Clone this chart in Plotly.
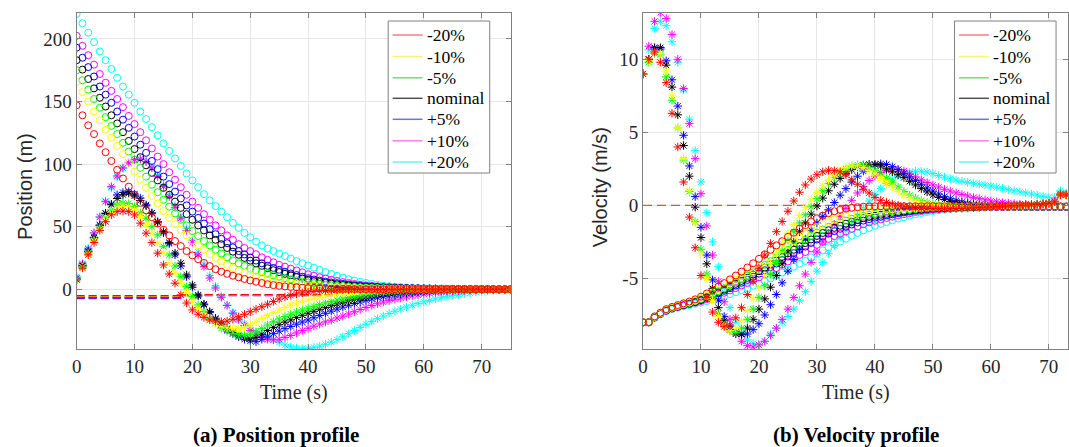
import plotly.graph_objects as go

W, H = 1069, 447

labels = ["-20%", "-10%", "-5%", "nominal", "+5%", "+10%", "+20%"]
colors = ["#ff0000", "#ffff00", "#00ff00", "#000000", "#0000ff", "#ff00ff", "#00ffff"]
legend_colors = ["#f08080", "#f5f570", "#70e070", "#505050", "#7070e8", "#f080f0", "#70f0f0"]

# ---------------- position profile (t = 0 .. 75 s) ----------------
t_pos = list(range(76))

pos_circ_m20 = [
    147, 139, 131, 124, 116.5, 109.5, 102.5, 95.5, 88.5, 82,
    75.5, 69, 63, 57.5, 52.5, 47.5, 43, 38.5, 34.5, 30.5,
    27, 24, 21, 18.5, 16, 14, 12.3, 10.8, 9.5, 8.2,
    7, 6, 5, 4, 3.3, 2.7, 2.2, 1.8, 1.5, 1.2,
    1, 0.8, 0.65, 0.5, 0.4, 0.3, 0.25, 0.2, 0.15, 0.1,
    0.08, 0.06, 0.05, 0.04, 0.03, 0.02, 0.02, 0.01, 0.01, 0.01,
    0, 0, 0, 0, 0, 0, 0, 0, 0, 0,
    0, 0, 0, 0, 0, 0]
pos_circ_m10 = [
    165.5, 157.5, 150, 142, 135, 127.5, 121, 114.5, 108, 101,
    94, 87.5, 81, 74.5, 68.5, 62.5, 57, 52, 47.5, 43,
    39, 35, 31.5, 28, 25, 22, 19.5, 17, 15, 13.2,
    11.6, 10.3, 9.2, 8.2, 7.3, 6.5, 5.7, 5, 4.4, 3.8,
    3.3, 2.9, 2.5, 2.1, 1.8, 1.5, 1.3, 1.1, 0.9, 0.8,
    0.65, 0.55, 0.45, 0.4, 0.33, 0.28, 0.24, 0.2, 0.17, 0.14,
    0.12, 0.1, 0.08, 0.07, 0.06, 0.05, 0.04, 0.03, 0.03, 0.02,
    0.02, 0.01, 0.01, 0.01, 0, 0]
pos_circ_m5 = [
    175, 167, 159.5, 152, 145, 137.5, 130.5, 124, 117, 110,
    103.5, 97, 90, 83.5, 77.5, 71.5, 66, 60.5, 55.5, 51,
    46.5, 42.5, 38.5, 35, 31.5, 28.5, 25.5, 23, 20.7, 18.6,
    16.7, 15, 13.5, 12.5, 11.2, 10, 8.9, 7.9, 7, 6.2,
    5.4, 4.8, 4.2, 3.7, 3.2, 2.8, 2.4, 2.1, 1.8, 1.55,
    1.35, 1.15, 1, 0.85, 0.72, 0.62, 0.53, 0.45, 0.38, 0.32,
    0.27, 0.23, 0.19, 0.16, 0.13, 0.11, 0.09, 0.07, 0.06, 0.05,
    0.04, 0.03, 0.02, 0.02, 0.01, 0]
pos_circ_nom = [
    183, 175.5, 168, 160.5, 153, 146, 139, 132.5, 125.5, 118.5,
    112, 105.5, 99, 93, 87, 81, 75.5, 70, 65, 60,
    55.5, 51, 47, 43, 39.5, 36, 33, 30, 27.5, 25,
    22.8, 20.7, 18.7, 16.8, 15.2, 13.7, 12.3, 11, 9.8, 8.6,
    7.5, 6.6, 5.8, 5.1, 4.5, 3.9, 3.4, 3, 2.6, 2.2,
    1.9, 1.65, 1.42, 1.22, 1.05, 0.9, 0.77, 0.66, 0.56, 0.48,
    0.41, 0.35, 0.3, 0.25, 0.21, 0.18, 0.15, 0.12, 0.1, 0.08,
    0.06, 0.05, 0.04, 0.03, 0.02, 0.01]
pos_circ_p5 = [
    193, 185, 177.5, 170, 162, 155.5, 149, 142, 135.5, 129,
    122, 115.5, 109, 102.5, 96, 90, 84, 78, 72.5, 67,
    62, 57, 52.5, 48, 44, 40.3, 36.8, 33.5, 30.5, 27.8,
    25.3, 22.9, 20.7, 18.7, 17, 15.5, 14, 12.6, 11.3, 10,
    8.8, 7.8, 6.9, 6.1, 5.4, 4.8, 4.2, 3.7, 3.2, 2.8,
    2.4, 2.1, 1.8, 1.55, 1.33, 1.14, 0.98, 0.84, 0.72, 0.62,
    0.53, 0.45, 0.38, 0.32, 0.27, 0.23, 0.19, 0.16, 0.13, 0.11,
    0.09, 0.07, 0.05, 0.04, 0.02, 0.01]
pos_circ_p10 = [
    202.5, 194.5, 187, 179.5, 172, 165, 158.5, 152, 145.5, 138.5,
    132, 125.5, 119, 112.5, 106, 100, 93.5, 87.5, 81.5, 75.5,
    70, 65, 60, 55.5, 51, 47, 43, 39.5, 36, 33,
    30.5, 28, 25.5, 23.5, 21.5, 19.5, 18, 16.5, 15, 13.5,
    12, 10.8, 9.6, 8.5, 7.5, 6.6, 5.7, 4.9, 4.2, 3.6,
    3.1, 2.7, 2.3, 2, 1.7, 1.45, 1.23, 1.05, 0.9, 0.77,
    0.66, 0.56, 0.47, 0.4, 0.34, 0.28, 0.23, 0.19, 0.15, 0.12,
    0.09, 0.07, 0.05, 0.03, 0.02, 0.01]
pos_circ_p20 = [
    220, 212.5, 205, 197.5, 190, 183, 176, 169, 162, 155.5,
    149, 142, 136, 129.5, 123, 116.5, 110.5, 104.5, 98.5, 92.5,
    87, 81.5, 76, 71, 66.5, 62, 57.5, 53, 49, 45,
    41.5, 38, 35, 32.5, 30.5, 28.5, 26.5, 24.5, 22.5, 20.8,
    19, 17.2, 15.5, 13.8, 12.2, 10.7, 9.3, 8, 6.9, 5.9,
    5, 4.2, 3.5, 2.9, 2.4, 2, 1.65, 1.35, 1.1, 0.9,
    0.75, 0.62, 0.51, 0.42, 0.34, 0.28, 0.22, 0.18, 0.14, 0.11,
    0.08, 0.06, 0.04, 0.03, 0.02, 0]

pos_star_m20 = [
    7.5, 17, 27.5, 37.3, 47, 54, 59.5, 62, 62.5, 62,
    59.4, 52.8, 44.8, 37.3, 28.8, 19.4, 12.2, 4.8, -4.5, -11,
    -16.5, -20, -22.5, -24.5, -25.5, -26, -25.5, -24, -22, -20,
    -18, -16, -14, -12, -9.8, -7.8, -6.2, -4.9, -3.8, -2.9,
    -2.2, -1.7, -1.3, -1, -0.8, -0.6, -0.5, -0.4, -0.3, -0.25,
    -0.2, -0.15, -0.12, -0.1, -0.08, -0.06, -0.05, -0.04, -0.03, -0.02,
    -0.02, -0.01, -0.01, 0, 0, 0, 0, 0, 0, 0,
    0, 0, 0, 0, 0, 0]
pos_star_m10 = [
    8, 17.5, 28, 38.5, 48, 56, 61.5, 65, 66, 65.5,
    63, 58, 51.5, 44.5, 37, 29, 21, 13, 5, -2.5,
    -9.5, -15.5, -20.5, -24.5, -27.5, -29.5, -30.8, -31.5, -31.5, -30.5,
    -28.5, -26, -23.5, -21, -18.7, -16.5, -14.5, -12.7, -11.1, -9.7,
    -8.4, -7.2, -6.2, -5.3, -4.5, -3.8, -3.2, -2.7, -2.2, -1.8,
    -1.5, -1.2, -1, -0.8, -0.6, -0.5, -0.4, -0.3, -0.25, -0.2,
    -0.15, -0.1, -0.08, -0.06, -0.05, -0.04, -0.03, -0.02, -0.01, 0,
    0, 0, 0, 0, 0, 0]
pos_star_m5 = [
    8, 18, 29, 39.5, 49.5, 57.5, 63.5, 67.5, 69, 68.5,
    66, 61, 56.8, 50, 43.4, 34, 27.4, 18.6, 10, 2,
    -5.9, -12.6, -17.9, -23.2, -27.2, -31.2, -33.5, -35.3, -36.3, -36.8,
    -36.2, -34.3, -31.5, -28.6, -26, -23.8, -21.8, -20, -18.3, -16.7,
    -15.2, -13.7, -12.3, -11, -9.8, -8.7, -7.7, -6.7, -5.8, -5,
    -4.3, -3.6, -3, -2.5, -2.1, -1.7, -1.4, -1.1, -0.9, -0.7,
    -0.55, -0.45, -0.35, -0.28, -0.22, -0.17, -0.13, -0.1, -0.07, -0.05,
    -0.03, -0.02, -0.01, 0, 0, 0]
pos_star_nom = [
    8, 18.5, 30, 41, 51, 60.5, 67.5, 72.5, 75.5, 76.8,
    74.6, 70.9, 66.6, 60.8, 54, 46, 37.3, 28.8, 20.8, 11.4,
    3.4, -4.6, -11.8, -17.9, -23.2, -27.8, -31.5, -34.5, -37, -38.7,
    -39.5, -38.5, -36, -33, -30.5, -28.3, -26.3, -24.5, -22.5, -20.8,
    -19.2, -17.6, -16, -14.5, -13.1, -11.7, -10.4, -9.2, -8.1, -7.1,
    -6.2, -5.3, -4.5, -3.8, -3.2, -2.7, -2.2, -1.8, -1.5, -1.2,
    -1, -0.8, -0.6, -0.5, -0.4, -0.3, -0.22, -0.16, -0.11, -0.07,
    -0.04, -0.02, -0.01, 0, 0, 0]
pos_star_p5 = [
    8.5, 19, 30.5, 41.5, 51.4, 60.8, 68, 75.4, 77.3, 78,
    76, 72.8, 67.4, 61, 53.5, 45, 36.5, 27.5, 18.6, 10,
    1.6, -5.5, -12.5, -18.5, -24, -28.5, -32.5, -35.5, -38, -40,
    -41.3, -41.9, -40, -37.5, -35.5, -33.5, -31.5, -29.7, -27.9, -26.2,
    -24.6, -22.8, -21, -19.2, -17.5, -15.9, -14.3, -12.8, -11.4, -10.1,
    -8.9, -7.8, -6.8, -5.9, -5.1, -4.4, -3.8, -3.2, -2.7, -2.3,
    -1.9, -1.6, -1.3, -1.1, -0.9, -0.7, -0.55, -0.42, -0.32, -0.24,
    -0.17, -0.11, -0.07, -0.04, -0.02, 0]
pos_star_p10 = [
    9, 20, 32, 45, 57.6, 70, 82, 90.5, 97, 101,
    103.5, 104, 102, 97, 90, 82, 74, 65.5, 56.8, 47,
    37.5, 27.5, 18, 9, 1, -6.5, -13, -19.2, -24.5, -29,
    -33, -36, -38.5, -40, -40.5, -40, -38.5, -37, -35, -33,
    -31.2, -29.5, -27.8, -26.2, -24.8, -23, -21.5, -19.8, -18, -16.2,
    -14.6, -13, -11.6, -10.3, -9.1, -8, -7, -6.1, -5.3, -4.5,
    -3.8, -3.2, -2.7, -2.2, -1.8, -1.5, -1.2, -1, -0.8, -0.6,
    -0.5, -0.4, -0.3, -0.2, -0.1, 0]
pos_star_p20 = [
    10, 20.8, 33, 45, 58, 70.5, 81, 89.5, 96.5, 100.8,
    103.5, 104, 102, 97.5, 91, 83.5, 75.5, 67, 58, 48.5,
    39, 29.5, 20, 11, 2.5, -5.5, -12.6, -18.5, -23.5, -27.5,
    -31, -34, -36.5, -38.5, -40.5, -42.5, -44.5, -46, -47, -47.5,
    -47.3, -46.5, -45.5, -44, -42.3, -40.3, -38, -35.5, -33, -30.5,
    -28, -25.7, -23.5, -21.4, -19.4, -17.6, -15.9, -14.3, -12.8, -11.4,
    -10.1, -8.9, -7.8, -6.8, -5.9, -5.1, -4.3, -3.6, -3, -2.4,
    -1.9, -1.4, -1, -0.6, -0.3, 0]

# dashed reference levels in the position panel
ref_pos_switch = 18
ref_pos_stop = 45
ref_pos_early = [-5.2, -5.6, -6.0, -6.4, -6.8, -7.2, -7.6]
ref_pos_late = [-4.4, -4.5, -4.6, -4.7, -4.8, -4.9, -5.0]

# ---------------- velocity profile (t = 0 .. 73 s) ----------------
t_vel = list(range(74))

vel_circ_m20 = [
    -8.0, -8.0, -7.6, -7.35, -7.1, -6.95, -6.82, -6.7, -6.58, -6.43,
    -6.25, -6.03, -5.8, -5.56, -5.32, -5.06, -4.8, -4.53, -4.25, -3.96,
    -3.66, -3.35, -3.04, -2.74, -2.45, -2.15, -1.87, -1.6, -1.35, -1.1,
    -0.88, -0.7, -0.53, -0.4, -0.3, -0.22, -0.16, -0.12, -0.09, -0.07,
] + [-0.06] * 34
vel_circ_m10 = [
    -8.0, -8.0, -7.63, -7.38, -7.14, -6.99, -6.87, -6.75, -6.64, -6.51,
    -6.35, -6.16, -5.96, -5.75, -5.54, -5.31, -5.09, -4.85, -4.6, -4.35,
    -4.08, -3.81, -3.53, -3.26, -2.99, -2.71, -2.45, -2.2, -1.96, -1.71,
    -1.49, -1.3, -1.12, -0.97, -0.84, -0.74, -0.63, -0.55, -0.47, -0.41,
    -0.36, -0.33, -0.29, -0.26, -0.23, -0.21, -0.18, -0.16, -0.14, -0.12,
    -0.11, -0.1, -0.09, -0.08, -0.08,
] + [-0.07] * 19
vel_circ_m5 = [
    -8.0, -8.0, -7.64, -7.39, -7.16, -7.01, -6.89, -6.78, -6.68, -6.55,
    -6.41, -6.24, -6.06, -5.87, -5.67, -5.46, -5.26, -5.04, -4.81, -4.58,
    -4.33, -4.08, -3.82, -3.56, -3.31, -3.05, -2.8, -2.56, -2.33, -2.08,
    -1.85, -1.65, -1.47, -1.31, -1.17, -1.04, -0.92, -0.82, -0.72, -0.63,
    -0.57, -0.51, -0.46, -0.41, -0.37, -0.33, -0.29, -0.25, -0.22, -0.19,
    -0.17, -0.15, -0.13, -0.12, -0.1, -0.1, -0.09, -0.09,
] + [-0.08] * 16
vel_circ_nom = [
    -8.0, -8.0, -7.65, -7.4, -7.18, -7.03, -6.91, -6.8, -6.7, -6.59,
    -6.45, -6.29, -6.13, -5.95, -5.76, -5.57, -5.37, -5.17, -4.96, -4.73,
    -4.5, -4.26, -4.02, -3.77, -3.53, -3.28, -3.04, -2.8, -2.58, -2.33,
    -2.09, -1.89, -1.7, -1.54, -1.39, -1.25, -1.12, -1.0, -0.88, -0.79,
    -0.71, -0.64, -0.58, -0.51, -0.46, -0.41, -0.36, -0.31, -0.27, -0.23,
    -0.2, -0.18, -0.16, -0.14, -0.12, -0.11, -0.1, -0.1,
] + [-0.09] * 16
vel_circ_p5 = [
    -8.0, -8.0, -7.66, -7.41, -7.19, -7.04, -6.93, -6.82, -6.72, -6.62,
    -6.49, -6.34, -6.19, -6.02, -5.85, -5.67, -5.48, -5.29, -5.1, -4.88,
    -4.67, -4.44, -4.22, -3.98, -3.74, -3.5, -3.27, -3.04, -2.82, -2.57,
    -2.33, -2.13, -1.93, -1.76, -1.6, -1.46, -1.31, -1.17, -1.04, -0.94,
    -0.84, -0.77, -0.69, -0.61, -0.54, -0.48, -0.42, -0.36, -0.32, -0.27,
    -0.24, -0.21, -0.18, -0.16, -0.14, -0.13, -0.12, -0.11,
] + [-0.1] * 16
vel_circ_p10 = [
    -8.0, -8.0, -7.68, -7.43, -7.21, -7.06, -6.96, -6.85, -6.76, -6.66,
    -6.55, -6.42, -6.29, -6.14, -5.98, -5.82, -5.66, -5.48, -5.31, -5.12,
    -4.92, -4.72, -4.51, -4.29, -4.06, -3.84, -3.62, -3.4, -3.19, -2.94,
    -2.7, -2.49, -2.29, -2.1, -1.93, -1.77, -1.6, -1.44, -1.29, -1.16,
    -1.05, -0.96, -0.86, -0.77, -0.68, -0.6, -0.53, -0.45, -0.39, -0.34,
    -0.3, -0.26, -0.22, -0.19, -0.17, -0.16, -0.14, -0.13, -0.12, -0.12,
] + [-0.11] * 14
vel_circ_p20 = [
    -8.0, -7.98, -7.7, -7.45, -7.25, -7.1, -7.0, -6.9, -6.82, -6.74,
    -6.65, -6.55, -6.45, -6.33, -6.2, -6.07, -5.94, -5.8, -5.66, -5.5,
    -5.34, -5.17, -5.0, -4.8, -4.6, -4.4, -4.2, -4.0, -3.8, -3.55,
    -3.3, -3.08, -2.87, -2.67, -2.47, -2.28, -2.08, -1.89, -1.7, -1.54,
    -1.4, -1.27, -1.14, -1.02, -0.9, -0.8, -0.7, -0.6, -0.52, -0.45,
    -0.39, -0.33, -0.28, -0.24, -0.21, -0.19, -0.17, -0.15, -0.13, -0.12,
] + [-0.11] * 14

vel_star_m20 = [
    9.0, 10.0, 10.5, 9.8, 8.4, 6.3, 4.0, 1.6, -0.8, -2.9,
    -4.8, -6.3, -7.3, -8.0, -8.3, -8.2, -7.7, -7.0, -6.1, -5.2,
    -4.3, -3.4, -2.6, -1.8, -1.1, -0.4, 0.3, 0.9, 1.4, 1.8,
    2.1, 2.3, 2.4, 2.38, 2.3, 2.1, 1.75, 1.45, 1.1, 0.85,
    0.55, 0.35, 0.2, 0.1, 0.02, -0.05, -0.1, -0.15, -0.18, -0.2,
    -0.22, -0.23, -0.23, -0.22, -0.21, -0.2, -0.18, -0.16, -0.14, -0.12,
    -0.1, -0.08, -0.06, -0.04, -0.02, 0, 0.02, 0.04, 0.07, 0.1,
    0.15, 0.25, 0.72, 0.72]
vel_star_m10 = [
    9.0, 9.9, 10.5, 10.4, 9.2, 7.5, 5.3, 3.2, 1.0, -1.2,
    -3.3, -5.0, -6.5, -7.6, -8.3, -8.6, -8.4, -7.9, -7.2, -6.4,
    -5.6, -4.8, -4.0, -3.3, -2.6, -1.9, -1.3, -0.7, -0.15, 0.4,
    0.9, 1.35, 1.75, 2.1, 2.4, 2.6, 2.7, 2.7, 2.6, 2.4,
    2.15, 1.85, 1.55, 1.25, 0.95, 0.7, 0.5, 0.32, 0.2, 0.1,
    0.03, -0.02, -0.06, -0.09, -0.11, -0.12, -0.12, -0.12, -0.11, -0.1,
    -0.09, -0.08, -0.06, -0.05, -0.03, -0.01, 0.01, 0.03, 0.06, 0.1,
    0.15, 0.25, 0.72, 0.72]
vel_star_m5 = [
    9.0, 9.8, 10.4, 10.3, 8.8, 7.2, 5.3, 3.1, 0.95, -1.1,
    -3.0, -4.7, -6.2, -7.4, -8.2, -8.6, -8.7, -8.4, -7.8, -7.1,
    -6.3, -5.5, -4.7, -3.9, -3.1, -2.4, -1.8, -1.2, -0.65, -0.1,
    0.45, 1.0, 1.5, 1.9, 2.25, 2.5, 2.7, 2.78, 2.75, 2.6,
    2.4, 2.15, 1.85, 1.55, 1.25, 0.95, 0.7, 0.5, 0.33, 0.2,
    0.1, 0.03, -0.02, -0.06, -0.09, -0.1, -0.11, -0.11, -0.1, -0.09,
    -0.08, -0.07, -0.05, -0.04, -0.02, 0, 0.02, 0.04, 0.07, 0.1,
    0.15, 0.25, 0.72, 0.72]
vel_star_nom = [
    9.0, 10.0, 10.8, 10.8, 9.6, 8.1, 6.2, 4.1, 2.0, -0.12,
    -2.2, -4.0, -5.7, -7.0, -7.9, -8.5, -8.8, -8.8, -8.4, -7.8,
    -7.1, -6.4, -5.6, -4.8, -4.0, -3.2, -2.5, -1.8, -1.2, -0.6,
    -0.05, 0.5, 1.0, 1.45, 1.85, 2.2, 2.45, 2.65, 2.77, 2.82,
    2.8, 2.7, 2.5, 2.3, 2.1, 1.9, 1.65, 1.4, 1.15, 0.92,
    0.72, 0.55, 0.4, 0.28, 0.18, 0.1, 0.04, 0.0, -0.03, -0.05,
    -0.06, -0.06, -0.05, -0.04, -0.02, 0, 0.02, 0.04, 0.07, 0.1,
    0.15, 0.25, 0.72, 0.72]
vel_star_p5 = [
    9.0, 10.0, 10.7, 10.7, 9.9, 8.6, 6.8, 4.8, 2.7, 0.6,
    -1.5, -3.4, -5.1, -6.5, -7.6, -8.3, -8.7, -8.85, -8.8, -8.5,
    -8.1, -7.5, -6.8, -6.1, -5.3, -4.5, -3.7, -3.0, -2.3, -1.7,
    -1.2, -0.75, -0.3, 0.2, 0.7, 1.15, 1.6, 2.0, 2.35, 2.6,
    2.78, 2.85, 2.8, 2.65, 2.45, 2.2, 1.95, 1.7, 1.45, 1.2,
    0.98, 0.78, 0.6, 0.45, 0.32, 0.22, 0.14, 0.08, 0.03, 0.0,
    -0.02, -0.03, -0.03, -0.02, -0.01, 0, 0.02, 0.04, 0.07, 0.1,
    0.15, 0.25, 0.72, 0.72]
vel_star_p10 = [
    9.0, 10.9, 12.6, 13.2, 12.8, 11.7, 10.0, 8.0, 5.6, 3.2,
    0.8, -1.4, -3.4, -5.2, -6.6, -7.8, -8.7, -9.3, -9.6, -9.7,
    -9.55, -9.3, -8.9, -8.4, -7.8, -7.1, -6.3, -5.5, -4.7, -3.9,
    -3.2, -2.5, -1.9, -1.3, -0.75, -0.2, 0.35, 0.85, 1.3, 1.7,
    2.0, 2.25, 2.4, 2.48, 2.45, 2.35, 2.15, 1.95, 1.75, 1.57,
    1.4, 1.25, 1.1, 0.98, 0.86, 0.75, 0.65, 0.55, 0.46, 0.38,
    0.31, 0.25, 0.2, 0.16, 0.12, 0.09, 0.07, 0.06, 0.06, 0.08,
    0.15, 0.3, 0.8, 0.75]
vel_star_p20 = [
    9.0, 10.65, 12.1, 12.6, 12.3, 11.2, 9.8, 7.9, 5.9, 3.75,
    1.6, -0.5, -2.5, -4.2, -5.7, -7.0, -8.0, -8.7, -9.2, -9.45,
    -9.55, -9.3, -8.8, -8.4, -8.0, -7.6, -7.1, -6.5, -5.9, -5.2,
    -4.5, -3.9, -3.3, -2.75, -2.2, -1.7, -1.2, -0.7, -0.2, 0.3,
    0.75, 1.15, 1.5, 1.8, 2.02, 2.18, 2.28, 2.33, 2.33, 2.28,
    2.18, 2.05, 1.93, 1.82, 1.73, 1.65, 1.58, 1.51, 1.45, 1.4,
    1.33, 1.25, 1.17, 1.08, 1.0, 0.93, 0.86, 0.78, 0.7, 0.62,
    0.55, 0.55, 1.0, 0.85]

ref_vel_level = 0
ref_vel_stop = 45

pos_circ = [pos_circ_m20, pos_circ_m10, pos_circ_m5, pos_circ_nom, pos_circ_p5, pos_circ_p10, pos_circ_p20]
pos_star = [pos_star_m20, pos_star_m10, pos_star_m5, pos_star_nom, pos_star_p5, pos_star_p10, pos_star_p20]
vel_circ = [vel_circ_m20, vel_circ_m10, vel_circ_m5, vel_circ_nom, vel_circ_p5, vel_circ_p10, vel_circ_p20]
vel_star = [vel_star_m20, vel_star_m10, vel_star_m5, vel_star_nom, vel_star_p5, vel_star_p10, vel_star_p20]

SERIF = "Liberation Serif, Times New Roman, serif"
SANS = "Liberation Sans, Arial, sans-serif"


def px_x(p):
    return p / W


def px_y(p):
    return 1 - p / H


fig = go.Figure()

# dashed reference lines (drawn underneath the markers)
for k in reversed(range(7)):
    fig.add_trace(go.Scatter(
        x=[0, ref_pos_switch, None, ref_pos_switch, ref_pos_stop],
        y=[ref_pos_early[k], ref_pos_early[k], None, ref_pos_late[k], ref_pos_late[k]],
        mode="lines", line=dict(color=colors[k], width=1.6, dash="8px,4px"),
        showlegend=False, hoverinfo="skip", xaxis="x", yaxis="y"))
fig.add_trace(go.Scatter(
    x=[0, ref_vel_stop], y=[ref_vel_level, ref_vel_level],
    mode="lines", line=dict(color="#d2553c", width=1.4, dash="9px,5px"),
    showlegend=False, hoverinfo="skip", xaxis="x2", yaxis="y2"))

# markers: the red series ends up on top
for k in reversed(range(7)):
    for xs, ys, sym, ax in [
        (t_pos, pos_circ[k], "circle-open", ("x", "y")),
        (t_pos, pos_star[k], "asterisk-open", ("x", "y")),
        (t_vel, vel_circ[k], "circle-open", ("x2", "y2")),
        (t_vel, vel_star[k], "asterisk-open", ("x2", "y2")),
    ]:
        fig.add_trace(go.Scatter(
            x=xs, y=ys, mode="markers",
            marker=dict(symbol=sym, size=7, color=colors[k], line=dict(width=1, color=colors[k])),
            showlegend=False, xaxis=ax[0], yaxis=ax[1]))

axis_common = dict(
    showline=True, linecolor="#808080", linewidth=1, mirror="ticks",
    ticks="inside", ticklen=5, tickcolor="#808080",
    showgrid=True, gridcolor="#e6e6e6", gridwidth=1, zeroline=False,
)
tick_font = dict(family=SERIF, size=19, color="#262626")

ydom = [px_y(349.3), px_y(13.3)]

fig.update_layout(
    width=W, height=H,
    margin=dict(l=0, r=0, t=0, b=0),
    paper_bgcolor="white", plot_bgcolor="white",
    showlegend=False,
    xaxis=dict(domain=[px_x(72), px_x(508)], range=[0, 75],
               tickvals=[0, 10, 20, 30, 40, 50, 60, 70], anchor="y",
               tickfont=tick_font, **axis_common),
    yaxis=dict(domain=ydom, range=[-48, 220.5],
               tickvals=[0, 50, 100, 150, 200], anchor="x",
               tickfont=tick_font, **axis_common),
    xaxis2=dict(domain=[px_x(641), px_x(1068)], range=[0, 73.3],
                tickvals=[0, 10, 20, 30, 40, 50, 60, 70], anchor="y2",
                tickfont=tick_font, **axis_common),
    yaxis2=dict(domain=ydom, range=[-9.85, 13.15],
                tickvals=[-5, 0, 5, 10], ticktext=["-5", "0", "5", "10"],
                anchor="x2", tickfont=tick_font, **axis_common),
)

# legend boxes with line samples
shapes = []
annotations = []
legend_boxes = [(385, 487), (954, 1056)]
legend_top, legend_bottom = 21, 173
entry_y = [35, 56.5, 77.8, 98.3, 119.3, 140.8, 162]
for left, right in legend_boxes:
    shapes.append(dict(type="rect", xref="paper", yref="paper",
                       x0=px_x(left), x1=px_x(right), y0=px_y(legend_bottom), y1=px_y(legend_top),
                       line=dict(color="#808080", width=1), fillcolor="white", layer="above"))
    for k in range(7):
        shapes.append(dict(type="line", xref="paper", yref="paper",
                           x0=px_x(left + 4.5), x1=px_x(left + 34.5),
                           y0=px_y(entry_y[k]), y1=px_y(entry_y[k]),
                           line=dict(color=legend_colors[k], width=1.5), layer="above"))
        annotations.append(dict(text=labels[k], x=px_x(left + 37), y=px_y(entry_y[k]),
                                xanchor="left", yanchor="middle",
                                font=dict(family=SERIF, size=17.5, color="#000000")))

annotations += [
    dict(text="Position (m)", x=px_x(20), y=px_y(186), textangle=-90,
         xanchor="center", yanchor="middle",
         font=dict(family=SANS, size=20, color="#262626")),
    dict(text="Velocity (m/s)", x=px_x(598), y=px_y(187), textangle=-90,
         xanchor="center", yanchor="middle",
         font=dict(family=SANS, size=20, color="#262626")),
    dict(text="Time (s)", x=px_x(290), y=px_y(392),
         xanchor="center", yanchor="middle",
         font=dict(family=SERIF, size=20, color="#262626")),
    dict(text="Time (s)", x=px_x(855), y=px_y(392),
         xanchor="center", yanchor="middle",
         font=dict(family=SERIF, size=20, color="#262626")),
    dict(text="<b>(a) Position profile</b>", x=px_x(272), y=px_y(435),
         xanchor="center", yanchor="middle",
         font=dict(family=SERIF, size=21, color="#000000")),
    dict(text="<b>(b) Velocity profile</b>", x=px_x(855), y=px_y(435),
         xanchor="center", yanchor="middle",
         font=dict(family=SERIF, size=21, color="#000000")),
]
for a in annotations:
    a.update(xref="paper", yref="paper", showarrow=False)

fig.update_layout(shapes=shapes, annotations=annotations)

fig.write_html("out.html")
